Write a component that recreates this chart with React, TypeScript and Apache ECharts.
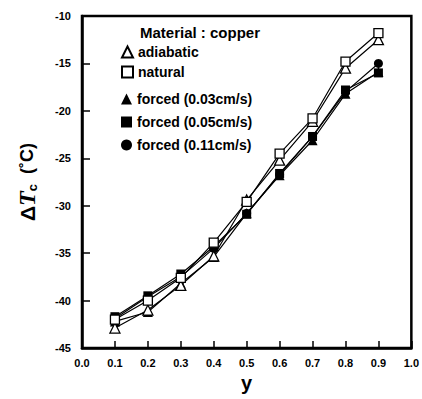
import React, { useEffect, useRef } from "react";
import * as echarts from "echarts";

const xValues = [0.1, 0.2, 0.3, 0.4, 0.5, 0.6, 0.7, 0.8, 0.9];
const adiabatic = [-42.9, -41.0, -38.4, -35.3, -29.4, -25.2, -21.1, -15.5, -12.5];
const natural = [-42.0, -40.0, -37.6, -33.9, -29.6, -24.5, -20.8, -14.8, -11.8];
const forced003 = [-42.2, -41.2, -38.2, -35.4, -30.8, -26.8, -23.1, -18.2, -15.9];
const forced005 = [-41.7, -39.5, -37.2, -34.3, -30.9, -26.6, -22.7, -17.8, -16.0];
const forced011 = [-41.9, -39.6, -37.5, -34.5, -30.8, -26.7, -22.7, -18.0, -15.0];

const FONT = "'Liberation Sans', Arial, sans-serif";

function pairs(ys: number[]) {
  return xValues.map((x, i) => [x, ys[i]]);
}

export default function App() {
  const ref = useRef<HTMLDivElement>(null);
  useEffect(() => {
    if (!ref.current) return;
    const chart = echarts.init(ref.current, undefined, { renderer: "svg" });
    const open = { color: "#fff", borderColor: "#000", borderWidth: 1.3 };
    const filled = { color: "#000", borderColor: "#000", borderWidth: 0 };
    const mk = (name: string, ys: number[], symbol: string, size: number, style: any) => ({
      name,
      type: "line",
      data: pairs(ys),
      symbol,
      symbolSize: size,
      showSymbol: true,
      lineStyle: { color: "#000", width: 1.2 },
      itemStyle: style,
      z: style.color === "#fff" ? 3 : 2,
    });
    const legendText = { fontFamily: FONT, fontWeight: "bold", fontSize: 14, color: "#000" };
    chart.setOption({
      animation: false,
      backgroundColor: "#fff",
      title: {
        text: "Material : copper",
        left: 135,
        top: 20,
        textStyle: { fontFamily: FONT, fontWeight: "bold", fontSize: 15, color: "#000" },
      },
      legend: [
        {
          orient: "vertical",
          left: 116,
          top: 40,
          itemWidth: 11,
          itemHeight: 11,
          itemGap: 6,
          itemTextGap: 10,
          textStyle: legendText,
          data: [
            { name: "adiabatic", icon: "triangle" },
            { name: "natural", icon: "rect" },
          ],
        },
        {
          orient: "vertical",
          left: 116,
          top: 87,
          itemWidth: 11,
          itemHeight: 11,
          itemGap: 9,
          itemTextGap: 10,
          textStyle: legendText,
          data: [
            { name: "forced (0.03cm/s)", icon: "triangle" },
            { name: "forced (0.05cm/s)", icon: "rect" },
            { name: "forced (0.11cm/s)", icon: "circle" },
          ],
        },
      ],
      grid: {
        left: 82,
        right: 6,
        top: 16,
        bottom: 51,
        show: true,
        borderColor: "#000",
        borderWidth: 2.5,
        backgroundColor: "transparent",
      },
      xAxis: {
        type: "value",
        min: 0,
        max: 1,
        interval: 0.1,
        name: "y",
        nameLocation: "middle",
        nameGap: 25,
        nameTextStyle: { fontFamily: FONT, fontWeight: "bold", fontSize: 20, color: "#000" },
        axisLine: { show: true, lineStyle: { color: "#000", width: 2.5 } },
        axisTick: { show: true, inside: true, length: 7, lineStyle: { color: "#000", width: 1.5 } },
        axisLabel: {
          formatter: (v: number) => v.toFixed(1),
          fontFamily: FONT,
          fontWeight: "bold",
          fontSize: 11,
          color: "#000",
          margin: 9,
        },
        splitLine: { show: false },
      },
      yAxis: {
        type: "value",
        min: -45,
        max: -10,
        interval: 5,
        name: "{d|Δ}{t|T}{s|c}{u|  (˚C)}",
        nameLocation: "middle",
        nameGap: 43,
        nameTextStyle: {
          rich: {
            d: { fontFamily: FONT, fontWeight: "bold", fontSize: 21, color: "#000" },
            t: { fontFamily: "'Liberation Serif', 'Times New Roman', serif", fontStyle: "italic", fontWeight: "bold", fontSize: 24, color: "#000" },
            s: { fontFamily: FONT, fontWeight: "bold", fontSize: 13, color: "#000", verticalAlign: "bottom", padding: [8, 0, 0, 0] },
            u: { fontFamily: FONT, fontWeight: "bold", fontSize: 18, color: "#000" },
          },
        },
        axisLine: { show: true, lineStyle: { color: "#000", width: 2.5 } },
        axisTick: { show: true, inside: true, length: 8, lineStyle: { color: "#000", width: 1.5 } },
        axisLabel: {
          fontFamily: FONT,
          fontWeight: "bold",
          fontSize: 11,
          color: "#000",
          margin: 11,
        },
        splitLine: { show: false },
      },
      series: [
        mk("forced (0.03cm/s)", forced003, "triangle", 10, filled),
        mk("forced (0.05cm/s)", forced005, "rect", 9, filled),
        mk("forced (0.11cm/s)", forced011, "circle", 9, filled),
        mk("adiabatic", adiabatic, "triangle", 10, open),
        mk("natural", natural, "rect", 9, open),
      ],
    });
    return () => chart.dispose();
  }, []);
  return (
    <div
      ref={ref}
      style={{ position: "fixed", left: 0, top: 0, width: 422, height: 399, background: "#fff" }}
    />
  );
}
